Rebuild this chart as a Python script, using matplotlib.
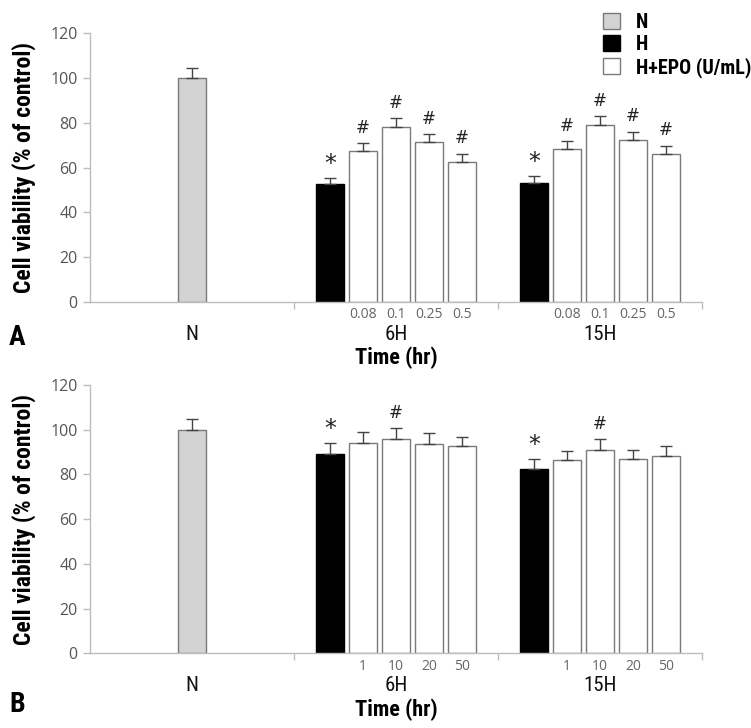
import matplotlib
matplotlib.use("Agg")
import matplotlib.pyplot as plt
from matplotlib.patches import Patch
from matplotlib import font_manager
import numpy as np

# datos
categorias = ["N", "6H", "15H"]
dosis_a = ["0.08", "0.1", "0.25", "0.5"]
dosis_b = ["1", "10", "20", "50"]

n_val = 100.0
n_err = 4.6

# panel A: [H, d1, d2, d3, d4]
a_6h = [52.7, 67.4, 78.3, 71.3, 62.6]
a_6h_err = [2.5, 3.5, 3.7, 3.6, 3.4]
a_15h = [53.0, 68.2, 79.2, 72.2, 66.2]
a_15h_err = [3.1, 3.6, 3.7, 3.7, 3.6]
a_marcas = ["*", "#", "#", "#", "#"]

# panel B
b_6h = [89.3, 94.0, 96.0, 93.6, 92.6]
b_6h_err = [4.7, 4.8, 4.6, 4.8, 4.1]
b_15h = [82.3, 86.3, 90.9, 86.8, 88.1]
b_15h_err = [4.5, 4.3, 4.8, 4.1, 4.5]
b_marcas = ["*", "", "#", "", ""]

# buscar una fuente estrecha si existe
nombres = {f.name for f in font_manager.fontManager.ttflist}
angosta = None
for cand in ["Liberation Sans Narrow", "Arial Narrow", "Roboto Condensed",
             "Open Sans Condensed", "DejaVu Sans Condensed"]:
    if cand in nombres:
        angosta = cand
        break
if angosta:
    narrow = [angosta, "DejaVu Sans"]
    esc = 1.0
else:
    narrow = ["Liberation Sans", "DejaVu Sans"]
    esc = 0.85

gris_txt = "#555555"
gris_eje = "#bdbdbd"
borde = "#7a7a7a"

ancho = 0.137
paso = 0.162


def panel(ax, g6, e6, g15, e15, marcas, dosis, letra, y_letra):
    # barra N
    ax.bar(0, n_val, ancho, color="#d3d3d3", edgecolor=borde, linewidth=1, zorder=2)
    ax.errorbar(0, n_val, yerr=[[0], [n_err]], fmt="none", ecolor="#444444",
                elinewidth=1, capsize=4, capthick=1, zorder=3)
    for c, vals, errs in [(1, g6, e6), (2, g15, e15)]:
        xs = c + (np.arange(5) - 2) * paso
        colores = ["black"] + ["white"] * 4
        bordes = ["black"] + [borde] * 4
        ax.bar(xs, vals, ancho, color=colores, edgecolor=bordes, linewidth=1, zorder=2)
        ax.errorbar(xs, vals, yerr=[np.zeros(5), errs], fmt="none", ecolor="#444444",
                    elinewidth=1, capsize=4, capthick=1, zorder=3)
        for x, v, e, m in zip(xs, vals, errs, marcas):
            if m == "*":
                ax.text(x, v + e + 1.0, m, ha="center", va="bottom", fontsize=17,
                        family="DejaVu Sans", color="#222222")
            elif m:
                ax.text(x, v + e + 3.0, m, ha="center", va="bottom", fontsize=12,
                        family="DejaVu Sans", color="#222222")
        for x, d in zip(xs[1:], dosis):
            ax.text(x, -2.6, d, ha="center", va="top", fontsize=10, color="#666666",
                    family="Open Sans")

    ax.set_xlim(-0.5, 2.5)
    ax.set_ylim(0, 120)
    ax.set_yticks(np.arange(0, 121, 20))
    ax.set_yticklabels([str(v) for v in range(0, 121, 20)], family="Open Sans")
    ax.tick_params(axis="y", colors=gris_eje, labelcolor=gris_txt, labelsize=11.5,
                   length=5, width=1, direction="out", pad=4)
    ax.set_xticks([0.5, 1.5, 2.5])
    ax.set_xticklabels([])
    ax.tick_params(axis="x", colors=gris_eje, length=5, width=1, direction="out")
    for i, cat in enumerate(categorias):
        ax.text(i, -14.5, cat, ha="center", va="center", fontsize=15 * esc,
                color="#111111", family=narrow)
    for s in ["top", "right"]:
        ax.spines[s].set_visible(False)
    for s in ["left", "bottom"]:
        ax.spines[s].set_color(gris_eje)
        ax.spines[s].set_linewidth(1)
    ax.set_ylabel("Cell viability (% of control)", fontsize=17 * esc, fontweight="bold",
                  family=narrow, labelpad=10)
    ax.text(0.5, -0.21, "Time (hr)", transform=ax.transAxes, ha="center",
            va="center", fontsize=16 * esc, fontweight="bold", family=narrow)
    ax.text(-0.132, y_letra, letra, transform=ax.transAxes, ha="left", va="top",
            fontsize=20 * esc, fontweight="bold", family=narrow)


fig = plt.figure(figsize=(7.51, 7.28), dpi=100)
ax1 = fig.add_axes([0.1198, 0.5856, 0.815, 0.3684])
ax2 = fig.add_axes([0.1198, 0.1026, 0.815, 0.3686])

panel(ax1, a_6h, a_6h_err, a_15h, a_15h_err, a_marcas, dosis_a, "A", -0.085)
panel(ax2, b_6h, b_6h_err, b_15h, b_15h_err, b_marcas, dosis_b, "B", -0.14)

handles = [Patch(facecolor="#d3d3d3", edgecolor=borde),
           Patch(facecolor="black", edgecolor="black"),
           Patch(facecolor="white", edgecolor=borde)]
fig.legend(handles, ["N", "H", "H+EPO (U/mL)"], loc="upper left",
           bbox_to_anchor=(0.790, 0.996), frameon=False, borderpad=0,
           handlelength=0.85, handleheight=0.8, handletextpad=0.75, labelspacing=0.15,
           prop={"family": narrow, "weight": "bold", "size": 14.5 * esc})

fig.savefig("out.png", dpi=100)
